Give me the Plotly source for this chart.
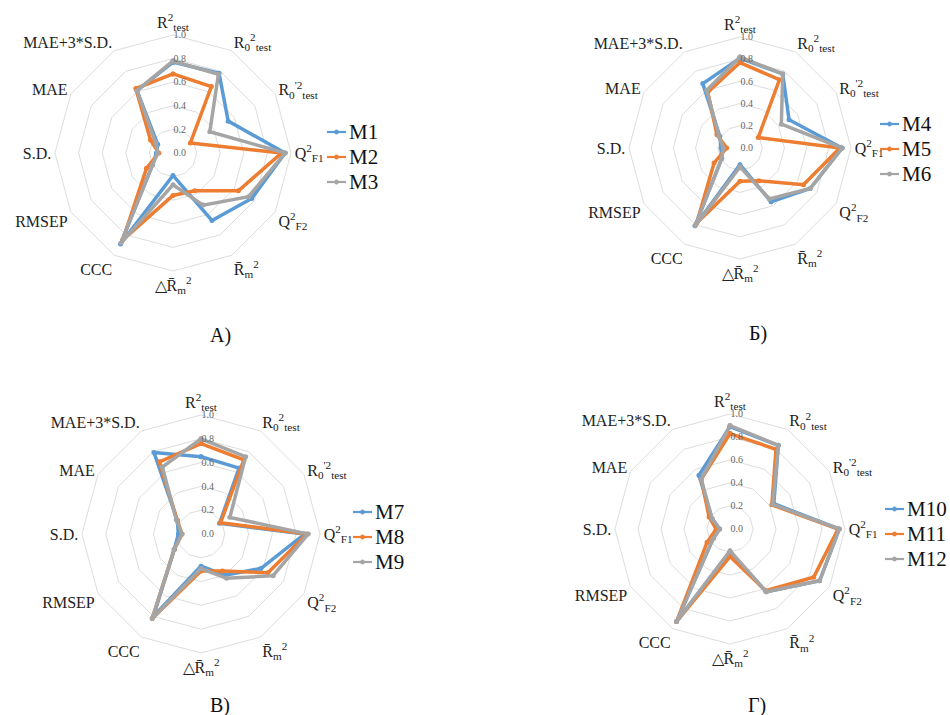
import plotly.graph_objects as go

categories = [
    "R<sup>2</sup><sub>test</sub>",
    "R<sub>0</sub><sup>2</sup><sub>test</sub>",
    "R<sub>0</sub><sup>'2</sup><sub>test</sub>",
    "Q<sup>2</sup><sub>F1</sub>",
    "Q<sup>2</sup><sub>F2</sub>",
    "R\u0304<sub>m</sub><sup>2</sup>",
    "\u25b3R\u0304<sub>m</sub><sup>2</sup>",
    "CCC",
    "RMSEP",
    "S.D.",
    "MAE",
    "MAE+3*S.D.",
]

# Panel A
M1 = [0.77, 0.78, 0.54, 0.95, 0.77, 0.66, 0.19, 0.89, 0.20, 0.14, 0.15, 0.61]
M2 = [0.67, 0.65, 0.17, 0.92, 0.64, 0.37, 0.36, 0.85, 0.26, 0.12, 0.22, 0.63]
M3 = [0.78, 0.77, 0.36, 0.95, 0.74, 0.51, 0.27, 0.88, 0.20, 0.13, 0.17, 0.61]
# Panel B
M4 = [0.81, 0.77, 0.51, 0.92, 0.73, 0.56, 0.15, 0.81, 0.19, 0.17, 0.21, 0.67]
M5 = [0.77, 0.71, 0.19, 0.90, 0.66, 0.34, 0.30, 0.78, 0.27, 0.12, 0.24, 0.58]
M6 = [0.82, 0.77, 0.43, 0.92, 0.73, 0.53, 0.17, 0.81, 0.19, 0.15, 0.22, 0.60]
# Panel C
M7 = [0.65, 0.64, 0.18, 0.87, 0.58, 0.40, 0.27, 0.80, 0.26, 0.19, 0.23, 0.79]
M8 = [0.76, 0.72, 0.19, 0.89, 0.65, 0.36, 0.31, 0.82, 0.26, 0.16, 0.23, 0.70]
M9 = [0.80, 0.75, 0.28, 0.90, 0.70, 0.43, 0.29, 0.82, 0.26, 0.16, 0.24, 0.65]
# Panel D
M10 = [0.89, 0.84, 0.44, 0.95, 0.90, 0.63, 0.20, 0.93, 0.17, 0.09, 0.18, 0.54]
M11 = [0.83, 0.80, 0.42, 0.94, 0.84, 0.62, 0.24, 0.93, 0.23, 0.12, 0.21, 0.50]
M12 = [0.90, 0.84, 0.43, 0.95, 0.90, 0.63, 0.19, 0.93, 0.17, 0.09, 0.18, 0.50]

panel_labels = ["\u0410)", "\u0411)", "\u0412)", "\u0413)"]
radial_ticks = [0.0, 0.2, 0.4, 0.6, 0.8, 1.0]

panels = [
    [("M1", M1), ("M2", M2), ("M3", M3)],
    [("M4", M4), ("M5", M5), ("M6", M6)],
    [("M7", M7), ("M8", M8), ("M9", M9)],
    [("M10", M10), ("M11", M11), ("M12", M12)],
]
colors = ["#5B9BD5", "#ED7D31", "#A5A5A5"]

W, H = 950, 715
# centre (px), radius (px)
geom = [(173, 153, 118), (740, 148, 111), (201, 534, 119), (730, 529, 115)]
# legend sample-line start x and first item centre y (px)
legend_pos = [(327, 132), (880, 124), (353, 512), (885, 509)]
sample_len = 19
item_step = 25
label_pos = [(220, 335), (758, 333), (220, 705), (757, 705)]

SERIF = "Liberation Serif"


def px_x(x):
    return x / W


def px_y(y):
    return 1 - y / H


fig = go.Figure()
annotations = []
shapes = []

for p, series in enumerate(panels):
    pid = "polar" if p == 0 else f"polar{p+1}"
    lx, ly = legend_pos[p]
    for k, (name, vals) in enumerate(series):
        fig.add_trace(go.Scatterpolar(
            r=vals + vals[:1],
            theta=categories + categories[:1],
            mode="lines+markers",
            name=name,
            line=dict(color=colors[k], width=3.5),
            marker=dict(size=5, color=colors[k]),
            subplot=pid,
            showlegend=False,
        ))
        # legend entry: short coloured line sample with a dot + series name
        yy = ly + k * item_step
        shapes.append(dict(
            type="line", xref="paper", yref="paper",
            x0=px_x(lx), x1=px_x(lx + sample_len), y0=px_y(yy), y1=px_y(yy),
            line=dict(color=colors[k], width=2.2),
        ))
        cxm = lx + sample_len / 2
        shapes.append(dict(
            type="circle", xref="paper", yref="paper",
            x0=px_x(cxm - 2), x1=px_x(cxm + 2), y0=px_y(yy + 2), y1=px_y(yy - 2),
            line=dict(color=colors[k], width=1), fillcolor=colors[k],
        ))
        annotations.append(dict(
            text=name,
            x=px_x(lx + sample_len + 1), y=px_y(yy),
            xref="paper", yref="paper", xanchor="left", yanchor="middle",
            showarrow=False, font=dict(size=21, family=SERIF, color="#111"),
        ))

layout = dict(
    width=W, height=H,
    margin=dict(l=0, r=0, t=0, b=0),
    paper_bgcolor="white",
    plot_bgcolor="white",
    font=dict(family=SERIF, color="#222"),
    showlegend=False,
)

for p, (cx, cy, R) in enumerate(geom):
    pid = "polar" if p == 0 else f"polar{p+1}"
    layout[pid] = dict(
        domain=dict(x=[px_x(cx - R), px_x(cx + R)],
                    y=[px_y(cy + R), px_y(cy - R)]),
        gridshape="linear",
        bgcolor="white",
        radialaxis=dict(
            range=[0, 1], tickvals=radial_ticks, tickformat=".1f",
            angle=90, side="clockwise", showline=False, ticks="",
            tickangle=90,
            gridcolor="#DDDDDD", gridwidth=1,
            tickfont=dict(size=10, color="#666", family=SERIF),
        ),
        angularaxis=dict(
            direction="clockwise", rotation=90, showgrid=False,
            showline=True, linecolor="#DDDDDD", linewidth=1, ticks="",
            tickfont=dict(size=16, color="#222", family=SERIF),
        ),
    )
    tx, ty = label_pos[p]
    annotations.append(dict(
        text=panel_labels[p], x=px_x(tx), y=px_y(ty), xref="paper", yref="paper",
        xanchor="center", yanchor="middle",
        showarrow=False, font=dict(size=20, family=SERIF, color="#111"),
    ))

layout["annotations"] = annotations
layout["shapes"] = shapes
fig.update_layout(**layout)
# remove the browser's default 8px body margin so the 950x715 figure fills the window
fig.write_html(
    "out.html",
    config={"displayModeBar": False},
    post_script="document.body.style.margin='0';document.body.style.overflow='hidden';",
)
